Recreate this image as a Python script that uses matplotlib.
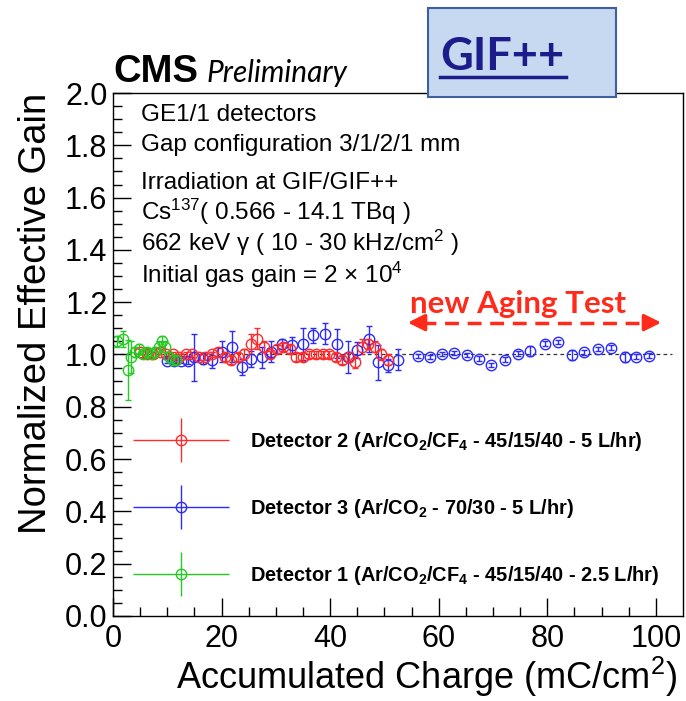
import matplotlib
matplotlib.use("Agg")
import matplotlib.pyplot as plt
from matplotlib.lines import Line2D
from matplotlib.patches import Rectangle
from matplotlib.container import ErrorbarContainer
from matplotlib.legend_handler import HandlerErrorbar

plt.rcParams["font.family"] = ["Liberation Sans", "DejaVu Sans"]
plt.rcParams["mathtext.fontset"] = "custom"
plt.rcParams["mathtext.rm"] = "Liberation Sans"
plt.rcParams["mathtext.it"] = "Liberation Sans:italic"
plt.rcParams["mathtext.bf"] = "Liberation Sans:bold"

# Detector 1 (green)
det1_x = [0.7, 1.8, 2.8, 3.4, 4.0, 4.8, 5.5, 6.3, 7.0, 7.8, 8.5, 9.0, 9.6, 10.3, 11.0, 11.7]
det1_y = [1.05, 1.06, 0.94, 0.99, 1.01, 1.02, 1.00, 1.01, 1.00, 1.01, 1.03, 1.05, 1.03, 0.99, 0.98, 0.98]
det1_err = [0.02, 0.03, 0.115, 0.06, 0.02, 0.02, 0.015, 0.015, 0.015, 0.02, 0.02, 0.02, 0.02, 0.015, 0.015, 0.01]

# Detector 2 (red)
det2_x = [5.0, 6.2, 7.4, 8.6, 9.8, 11.0, 12.2, 13.4, 14.6, 15.8, 17.0, 18.2, 19.4, 20.6,
          21.8, 23.0, 24.2, 25.4, 26.6, 27.8, 29.0, 30.2, 31.4, 32.6, 33.8, 35.0, 36.2,
          37.4, 38.6, 39.8, 41.0, 42.2, 43.4, 44.6, 45.8, 47.0, 48.2, 49.4, 50.6]
det2_y = [1.01, 1.00, 1.00, 1.01, 1.00, 1.00, 0.99, 1.00, 1.00, 0.99, 0.99, 1.00, 1.01, 0.99,
          0.98, 0.99, 1.00, 1.04, 1.06, 1.03, 1.00, 1.02, 1.03, 1.02, 0.99, 0.99, 1.00,
          1.00, 1.00, 1.00, 0.99, 0.98, 0.99, 0.97, 1.03, 1.04, 1.03, 1.00, 0.98]
det2_err = [0.01, 0.01, 0.01, 0.01, 0.01, 0.01, 0.01, 0.01, 0.01, 0.01, 0.01, 0.01, 0.015, 0.015,
            0.015, 0.015, 0.02, 0.04, 0.04, 0.02, 0.015, 0.015, 0.015, 0.015, 0.015, 0.015, 0.015,
            0.015, 0.015, 0.015, 0.015, 0.015, 0.02, 0.02, 0.03, 0.02, 0.02, 0.02, 0.02]

# Detector 3 (blue)
det3_x = [10.0, 11.2, 12.6, 13.8, 14.9, 16.6, 18.2, 20.0, 21.9, 23.7, 25.5, 27.4, 29.2, 31.1,
          32.9, 35.0, 36.9, 39.0, 41.2, 43.3, 45.0, 47.2, 48.9, 50.7, 52.5, 56.2, 58.4, 60.7,
          62.8, 65.3, 67.4, 69.7, 72.3, 74.6, 76.8, 79.6, 81.9, 84.5, 86.8, 89.3, 91.7, 94.3,
          96.4, 98.7]
det3_y = [0.977, 0.977, 0.977, 0.977, 0.99, 0.984, 0.98, 1.01, 1.03, 0.953, 0.984, 0.99, 1.01,
          1.041, 1.035, 1.04, 1.073, 1.08, 1.041, 0.99, 1.017, 1.058, 0.97, 0.958, 0.98, 0.993,
          0.99, 1.001, 1.005, 0.999, 0.984, 0.961, 0.98, 1.003, 1.013, 1.041, 1.047, 0.999,
          1.009, 1.02, 1.026, 0.99, 0.992, 0.996]
det3_err = [0.01, 0.01, 0.01, 0.015, 0.09, 0.02, 0.03, 0.04, 0.06, 0.03, 0.03, 0.04, 0.04, 0.02,
            0.03, 0.06, 0.03, 0.04, 0.055, 0.06, 0.03, 0.05, 0.066, 0.025, 0.04, 0.008, 0.008,
            0.008, 0.008, 0.008, 0.01, 0.008, 0.01, 0.01, 0.02, 0.01, 0.008, 0.02, 0.01, 0.008,
            0.01, 0.02, 0.01, 0.008]

labels = [r"Detector 2 (Ar/CO$_\mathbf{2}$/CF$_\mathbf{4}$ - 45/15/40 - 5 L/hr)",
          r"Detector 3 (Ar/CO$_\mathbf{2}$ - 70/30 - 5 L/hr)",
          r"Detector 1 (Ar/CO$_\mathbf{2}$/CF$_\mathbf{4}$ - 45/15/40 - 2.5 L/hr)"]

RED, BLUE, GREEN = "#ff2b2b", "#2b2bff", "#22cc22"
ARROW_RED = "#ff2a1a"

fig = plt.figure(figsize=(6.86, 7.01), dpi=100)
ax = fig.add_axes([0.1647, 0.1213, 0.8309, 0.746])

style = dict(fmt="o", ms=7.5, mfc="none", mew=1.0, elinewidth=1.0, capsize=2)
ax.axhline(1.0, xmin=0, xmax=103 / 105, color="#333333", ls=(0, (3, 2.5)), lw=0.9, zorder=1)
ax.errorbar(det3_x, det3_y, yerr=det3_err, color=BLUE, mec=BLUE, **style)
ax.errorbar(det2_x, det2_y, yerr=det2_err, color=RED, mec=RED, **style)
ax.errorbar(det1_x, det1_y, yerr=det1_err, color=GREEN, mec=GREEN, **style)

ax.set_xlim(0, 105)
ax.set_ylim(0, 2.0)
ax.set_xticks(range(0, 101, 20))
ax.set_xticks(range(0, 105, 5), minor=True)
ax.set_yticks([i / 10 for i in range(0, 21, 2)])
ax.set_yticklabels([f"{i / 10:.1f}" for i in range(0, 21, 2)])
ax.set_yticks([i / 20 for i in range(0, 41)], minor=True)
ax.tick_params(which="both", direction="in", labelsize=22, width=1.0)
ax.tick_params(which="major", length=13)
ax.tick_params(which="minor", length=6.5)
ax.tick_params(axis="x", pad=6)
ax.tick_params(axis="y", pad=4)
for s in ax.spines.values():
    s.set_linewidth(1.0)

ax.set_xlabel(r"Accumulated Charge (mC/cm$^{2}$)", fontsize=26, loc="right", labelpad=0)
ax.xaxis.label.set_x(0.99)
ax.set_ylabel("Normalized Effective Gain", fontsize=27.5, loc="top", labelpad=8)

# info text
info = [("GE1/1 detectors", 0.946),
        ("Gap configuration 3/1/2/1 mm", 0.889),
        ("Irradiation at GIF/GIF++", 0.816),
        (r"Cs$^{137}$( 0.566 - 14.1 TBq )", 0.757),
        (r"662 keV γ ( 10 - 30 kHz/cm$^{2}$ )", 0.698),
        (r"Initial gas gain = 2 $\times$ 10$^{4}$", 0.636)]
for txt, yy in info:
    ax.text(0.049, yy, txt, transform=ax.transAxes, fontsize=17.5, va="baseline", ha="left")

# legend proxies
handles = []
for c in (RED, BLUE, GREEN):
    h = ax.errorbar([], [], xerr=[], yerr=[], fmt="o", color=c, mec=c, ms=7.5, mfc="none",
                    mew=1.0, elinewidth=1.0)
    handles.append(h)
ax.legend(handles, labels, loc="upper left", bbox_to_anchor=(0.035, 0.355), frameon=False,
          prop={"weight": "bold", "size": 14.4}, handlelength=4.85, handletextpad=1.0,
          labelspacing=2.2, borderpad=0, borderaxespad=0,
          handler_map={ErrorbarContainer: HandlerErrorbar(xerr_size=2.4, yerr_size=1.1)})

# new aging test arrow
ax.plot([57, 98.5], [1.122, 1.122], color=ARROW_RED, lw=2.5, ls=(0, (4, 2.5)))
ax.annotate("", xy=(53.8, 1.122), xytext=(58.0, 1.122),
            arrowprops=dict(arrowstyle="-|>,head_length=1.0,head_width=0.5", color=ARROW_RED, lw=2.5))
ax.annotate("", xy=(101.5, 1.122), xytext=(97.3, 1.122),
            arrowprops=dict(arrowstyle="-|>,head_length=1.0,head_width=0.5", color=ARROW_RED, lw=2.5))
ax.text(74.6, 1.158, "new Aging Test", color=ARROW_RED, fontsize=22.5, fontweight="bold",
        family=["Lato", "DejaVu Sans"], ha="center", va="baseline")

# header
fig.text(113 / 686, 1 - 82 / 701, "CMS", fontsize=27.5, fontweight="bold", va="baseline", ha="left")
fig.text(207 / 686, 1 - 82 / 701, "Preliminary", fontsize=21.5, style="italic",
         family=["Lato", "DejaVu Sans"], va="baseline", ha="left")

fig.add_artist(Rectangle((428 / 686, 1 - 97 / 701), 188 / 686, 89 / 701, transform=fig.transFigure,
                         facecolor="#c6d9f1", edgecolor="#3f5fa0", lw=1.5, zorder=5))
fig.text(440 / 686, 1 - 70 / 701, "GIF++", fontsize=32.5, fontweight="bold", color="#1c1c8a",
         family=["Lato", "DejaVu Sans"], va="baseline", ha="left", zorder=6)
fig.add_artist(Line2D([440 / 686, 566 / 686], [1 - 77 / 701, 1 - 77 / 701], transform=fig.transFigure,
                      color="#1c1c8a", lw=2.5, zorder=6))

fig.savefig("out.png", dpi=100, facecolor="white")
